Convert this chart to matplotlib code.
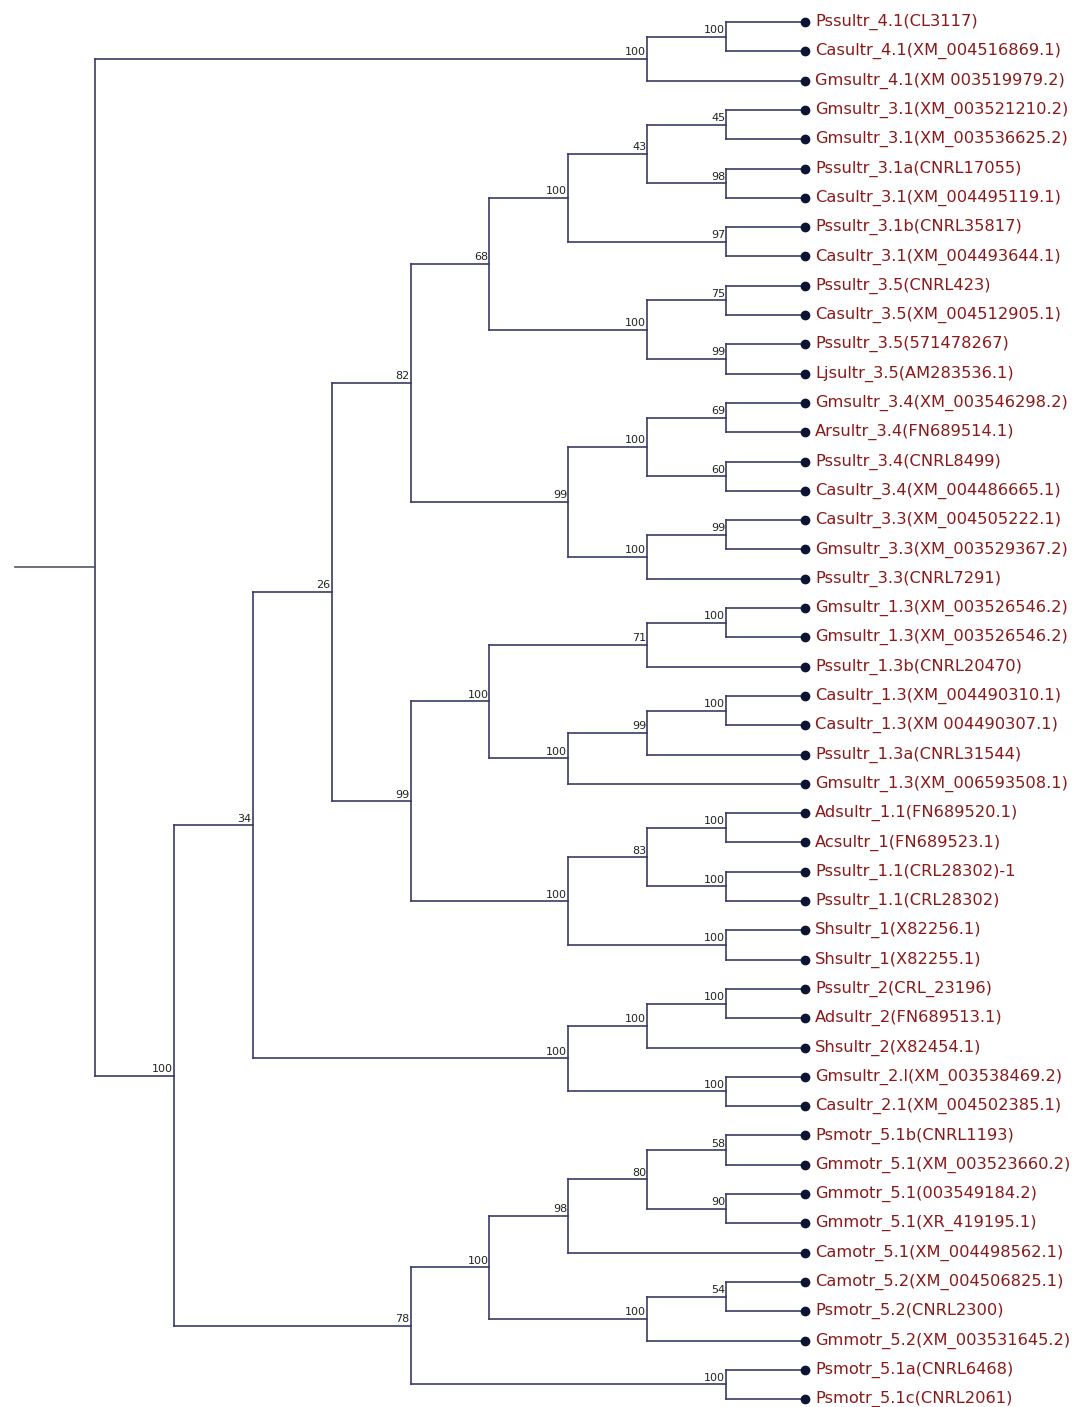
import matplotlib.pyplot as plt

# leaf names, top to bottom
leaves = [
    "Pssultr_4.1(CL3117)", "Casultr_4.1(XM_004516869.1)", "Gmsultr_4.1(XM 003519979.2)",
    "Gmsultr_3.1(XM_003521210.2)", "Gmsultr_3.1(XM_003536625.2)",
    "Pssultr_3.1a(CNRL17055)", "Casultr_3.1(XM_004495119.1)",
    "Pssultr_3.1b(CNRL35817)", "Casultr_3.1(XM_004493644.1)",
    "Pssultr_3.5(CNRL423)", "Casultr_3.5(XM_004512905.1)",
    "Pssultr_3.5(571478267)", "Ljsultr_3.5(AM283536.1)",
    "Gmsultr_3.4(XM_003546298.2)", "Arsultr_3.4(FN689514.1)",
    "Pssultr_3.4(CNRL8499)", "Casultr_3.4(XM_004486665.1)",
    "Casultr_3.3(XM_004505222.1)", "Gmsultr_3.3(XM_003529367.2)", "Pssultr_3.3(CNRL7291)",
    "Gmsultr_1.3(XM_003526546.2)", "Gmsultr_1.3(XM_003526546.2)", "Pssultr_1.3b(CNRL20470)",
    "Casultr_1.3(XM_004490310.1)", "Casultr_1.3(XM 004490307.1)", "Pssultr_1.3a(CNRL31544)",
    "Gmsultr_1.3(XM_006593508.1)",
    "Adsultr_1.1(FN689520.1)", "Acsultr_1(FN689523.1)",
    "Pssultr_1.1(CRL28302)-1", "Pssultr_1.1(CRL28302)",
    "Shsultr_1(X82256.1)", "Shsultr_1(X82255.1)",
    "Pssultr_2(CRL_23196)", "Adsultr_2(FN689513.1)", "Shsultr_2(X82454.1)",
    "Gmsultr_2.l(XM_003538469.2)", "Casultr_2.1(XM_004502385.1)",
    "Psmotr_5.1b(CNRL1193)", "Gmmotr_5.1(XM_003523660.2)",
    "Gmmotr_5.1(003549184.2)", "Gmmotr_5.1(XR_419195.1)", "Camotr_5.1(XM_004498562.1)",
    "Camotr_5.2(XM_004506825.1)", "Psmotr_5.2(CNRL2300)", "Gmmotr_5.2(XM_003531645.2)",
    "Psmotr_5.1a(CNRL6468)", "Psmotr_5.1c(CNRL2061)",
]

# topology: (bootstrap, [children]); ints are indices into leaves
tree = (None, [
    (100, [(100, [0, 1]), 2]),
    (100, [
        (34, [
            (26, [
                (82, [
                    (68, [
                        (100, [
                            (43, [(45, [3, 4]), (98, [5, 6])]),
                            (97, [7, 8]),
                        ]),
                        (100, [(75, [9, 10]), (99, [11, 12])]),
                    ]),
                    (99, [
                        (100, [(69, [13, 14]), (60, [15, 16])]),
                        (100, [(99, [17, 18]), 19]),
                    ]),
                ]),
                (99, [
                    (100, [
                        (71, [(100, [20, 21]), 22]),
                        (100, [(99, [(100, [23, 24]), 25]), 26]),
                    ]),
                    (100, [
                        (83, [(100, [27, 28]), (100, [29, 30])]),
                        (100, [31, 32]),
                    ]),
                ]),
            ]),
            (100, [
                (100, [(100, [33, 34]), 35]),
                (100, [36, 37]),
            ]),
        ]),
        (78, [
            (100, [
                (98, [(80, [(58, [38, 39]), (90, [40, 41])]), 42]),
                (100, [(54, [43, 44]), 45]),
            ]),
            (100, [46, 47]),
        ]),
    ]),
])

line_col = "#383c66"
leaf_col = "#8a1a1a"
x_leaf = 805
x_step = 78.9
y_top = 22
y_step = 29.3

fig = plt.figure(figsize=(10.75, 14.07), dpi=100)
ax = fig.add_axes([0, 0, 1, 1])
ax.set_xlim(0, 1075)
ax.set_ylim(1407, 0)
ax.axis("off")


def height(node):
    if isinstance(node, int):
        return 0
    return 1 + max(height(c) for c in node[1])


def draw(node):
    # returns (x, y) of the node and draws everything below it
    if isinstance(node, int):
        y = y_top + node * y_step
        ax.plot(x_leaf, y, "o", color="#0d1433", ms=6, zorder=3)
        ax.text(x_leaf + 10, y, leaves[node], color=leaf_col, fontsize=11.7,
                va="center", ha="left", family="DejaVu Sans")
        return x_leaf, y
    x = x_leaf - x_step * height(node)
    pts = [draw(c) for c in node[1]]
    ys = [p[1] for p in pts]
    ax.plot([x, x], [min(ys), max(ys)], color=line_col, lw=1.2)
    for cx, cy in pts:
        ax.plot([x, cx], [cy, cy], color=line_col, lw=1.2)
    for c, (cx, cy) in zip(node[1], pts):
        if not isinstance(c, int) and c[0] is not None:
            ax.text(cx - 1, cy - 1.5, str(c[0]), fontsize=8, color="#222222",
                    ha="right", va="bottom")
    return x, (min(ys) + max(ys)) / 2


rx, ry = draw(tree)
ax.plot([15, rx], [ry, ry], color="#555566", lw=1.2)

fig.savefig("out.png", dpi=100)
